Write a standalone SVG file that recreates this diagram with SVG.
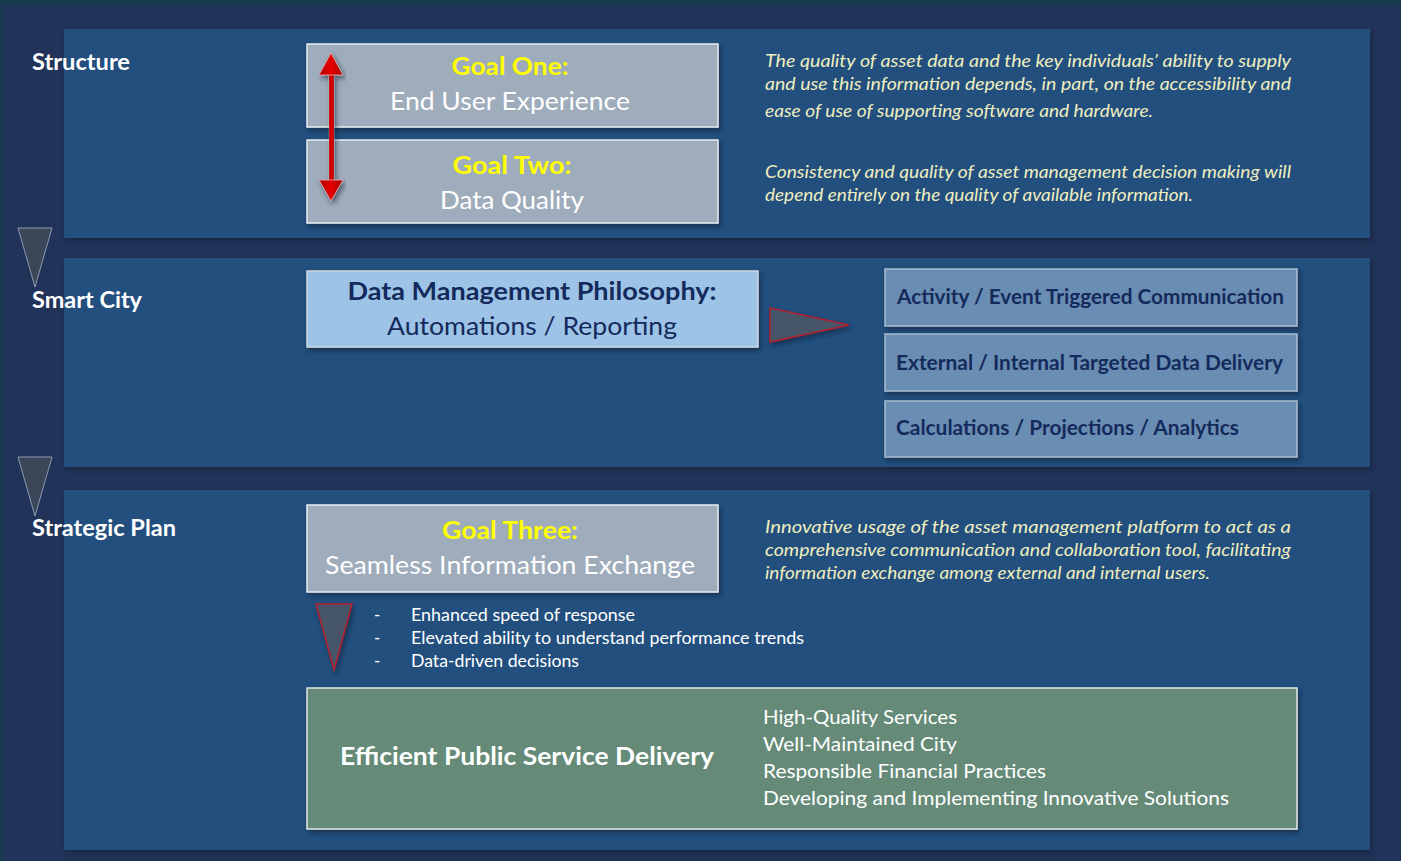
<svg xmlns="http://www.w3.org/2000/svg" width="1401" height="861" viewBox="0 0 1401 861">
<defs>
<filter id="sh" x="-10%" y="-10%" width="120%" height="130%">
<feDropShadow dx="2" dy="3" stdDeviation="2.5" flood-color="#0a1a30" flood-opacity="0.6"/>
</filter>
<linearGradient id="redg" x1="0" y1="0" x2="1" y2="0">
<stop offset="0" stop-color="#b00000"/><stop offset="0.5" stop-color="#e60000"/><stop offset="1" stop-color="#a00000"/>
</linearGradient>
</defs>
<style>
.band{fill:#24507e;}
.gray{fill:#9eacbb;stroke:#e8ecf0;stroke-width:1.5;}
.lbl{font-family:Lato,"Open Sans",sans-serif;font-weight:bold;font-size:22px;fill:#ffffff;}
.gh{font-family:Lato,"Open Sans",sans-serif;font-weight:bold;font-size:25px;fill:#ffff00;text-anchor:middle;}
.gs{font-family:Lato,"Open Sans",sans-serif;font-size:25px;fill:#ffffff;text-anchor:middle;}
.it{font-family:Lato,"Open Sans",sans-serif;font-style:italic;font-size:17.5px;fill:#efeebf;}
.nv{font-family:Lato,"Open Sans",sans-serif;font-weight:bold;fill:#142a5c;}
.wt{font-family:Lato,"Open Sans",sans-serif;fill:#ffffff;}
.tri{fill:#3b4758;stroke:#8a9ab0;stroke-width:1;}
.rtri{fill:#465468;stroke:#b02030;stroke-width:1.5;}
</style>
<rect x="0" y="0" width="1401" height="861" fill="#173a4c"/>
<rect x="3" y="5" width="1398" height="856" fill="#22335a"/>

<g id="band-structure">
<rect class="band" x="64" y="29" width="1306" height="209" filter="url(#sh)"/>
<text class="lbl" x="32" y="70" textLength="98" lengthAdjust="spacingAndGlyphs">Structure</text>
</g>
<g id="band-smartcity">
<rect class="band" x="64" y="258" width="1306" height="209" filter="url(#sh)"/>
<text class="lbl" x="32" y="308" textLength="110" lengthAdjust="spacingAndGlyphs">Smart City</text>
</g>
<g id="band-strategic">
<rect class="band" x="64" y="490" width="1306" height="360" filter="url(#sh)"/>
<text class="lbl" x="32" y="536" textLength="144" lengthAdjust="spacingAndGlyphs">Strategic Plan</text>
</g>

<g id="goal-one">
<rect class="gray" x="307" y="44" width="411" height="83" filter="url(#sh)"/>
<text class="gh" x="510" y="75" textLength="117" lengthAdjust="spacingAndGlyphs">Goal One:</text>
<text class="gs" x="510" y="110" textLength="240" lengthAdjust="spacingAndGlyphs">End User Experience</text>
</g>
<g id="goal-two">
<rect class="gray" x="307" y="140" width="411" height="83" filter="url(#sh)"/>
<text class="gh" x="512" y="174" textLength="119" lengthAdjust="spacingAndGlyphs">Goal Two:</text>
<text class="gs" x="512" y="209" textLength="144" lengthAdjust="spacingAndGlyphs">Data Quality</text>
</g>
<g id="text-structure">
<text class="it"><tspan x="765" y="67" textLength="526" lengthAdjust="spacingAndGlyphs">The quality of asset data and the key individuals’ ability to supply</tspan><tspan x="765" y="90" textLength="526" lengthAdjust="spacingAndGlyphs">and use this information depends, in part, on the accessibility and</tspan><tspan x="765" y="117" textLength="388" lengthAdjust="spacingAndGlyphs">ease of use of supporting software and hardware.</tspan></text>
<text class="it"><tspan x="765" y="178" textLength="526" lengthAdjust="spacingAndGlyphs">Consistency and quality of asset management decision making will</tspan><tspan x="765" y="201" textLength="428" lengthAdjust="spacingAndGlyphs">depend entirely on the quality of available information.</tspan></text>
</g>

<g id="data-mgmt">
<rect x="307" y="271" width="451" height="76" fill="#9dc3e6" stroke="#d0d8e0" stroke-width="1.5" filter="url(#sh)"/>
<text class="nv" x="532" y="300" font-size="25" text-anchor="middle" textLength="369" lengthAdjust="spacingAndGlyphs">Data Management Philosophy:</text>
<text x="532" y="335" font-size="25" text-anchor="middle" font-family="Lato,'Open Sans',sans-serif" fill="#142a5c" textLength="290" lengthAdjust="spacingAndGlyphs">Automations / Reporting</text>
</g>
<g id="activity">
<rect x="885" y="269" width="412" height="57" fill="#6a8db3" stroke="#a8bcd0" stroke-width="1.5" filter="url(#sh)"/>
<text class="nv" x="897" y="304" font-size="20" textLength="387" lengthAdjust="spacingAndGlyphs">Activity / Event Triggered Communication</text>
</g>
<g id="external">
<rect x="885" y="334" width="412" height="57" fill="#6a8db3" stroke="#a8bcd0" stroke-width="1.5" filter="url(#sh)"/>
<text class="nv" x="896" y="370" font-size="20" textLength="387" lengthAdjust="spacingAndGlyphs">External / Internal Targeted Data Delivery</text>
</g>
<g id="calculations">
<rect x="885" y="401" width="412" height="56" fill="#6a8db3" stroke="#a8bcd0" stroke-width="1.5" filter="url(#sh)"/>
<text class="nv" x="896" y="435" font-size="20" textLength="343" lengthAdjust="spacingAndGlyphs">Calculations / Projections / Analytics</text>
</g>

<g id="goal-three">
<rect class="gray" x="307" y="505" width="411" height="87" filter="url(#sh)"/>
<text class="gh" x="510" y="539" textLength="136" lengthAdjust="spacingAndGlyphs">Goal Three:</text>
<text class="gs" x="510" y="574" textLength="370" lengthAdjust="spacingAndGlyphs">Seamless Information Exchange</text>
</g>
<g id="text-strategic">
<text class="it"><tspan x="765" y="533" textLength="526" lengthAdjust="spacingAndGlyphs">Innovative usage of the asset management platform to act as a</tspan><tspan x="765" y="556" textLength="526" lengthAdjust="spacingAndGlyphs">comprehensive communication and collaboration tool, facilitating</tspan><tspan x="765" y="579" textLength="445" lengthAdjust="spacingAndGlyphs">information exchange among external and internal users.</tspan></text>
</g>
<g id="benefits">
<text class="wt" font-size="17"><tspan x="374" y="621">-</tspan><tspan x="374" y="644">-</tspan><tspan x="374" y="667">-</tspan></text>
<text class="wt" font-size="17"><tspan x="411" y="621" textLength="224" lengthAdjust="spacingAndGlyphs">Enhanced speed of response</tspan><tspan x="411" y="644" textLength="393" lengthAdjust="spacingAndGlyphs">Elevated ability to understand performance trends</tspan><tspan x="411" y="667" textLength="168" lengthAdjust="spacingAndGlyphs">Data-driven decisions</tspan></text>
</g>
<g id="efficient">
<rect x="307" y="688" width="990" height="141" fill="#658b78" stroke="#e0e8e4" stroke-width="1.5" filter="url(#sh)"/>
<text class="wt" x="340" y="765" font-size="25" font-weight="bold" textLength="374" lengthAdjust="spacingAndGlyphs">Efficient Public Service Delivery</text>
<text class="wt" font-size="20"><tspan x="763" y="724" textLength="194" lengthAdjust="spacingAndGlyphs">High-Quality Services</tspan><tspan x="763" y="751" textLength="194" lengthAdjust="spacingAndGlyphs">Well-Maintained City</tspan><tspan x="763" y="778" textLength="283" lengthAdjust="spacingAndGlyphs">Responsible Financial Practices</tspan><tspan x="763" y="805" textLength="466" lengthAdjust="spacingAndGlyphs">Developing and Implementing Innovative Solutions</tspan></text>
</g>

<g id="connectors">
<polygon class="tri" points="18,228 52,228 35,287"/>
<polygon class="tri" points="18,457 52,457 35,516"/>
<g filter="url(#sh)">
<rect x="329" y="72" width="5" height="110" fill="url(#redg)" stroke="#ffffff" stroke-opacity="0.4" stroke-width="0.5"/>
<polygon points="331,53 343,75 319,75" fill="url(#redg)" stroke="#e0b0b0" stroke-width="0.8"/>
<polygon points="319,180 343,180 331,201" fill="url(#redg)" stroke="#e0b0b0" stroke-width="0.8"/>
</g>
<polygon class="rtri" points="770,308 849,325 770,342" filter="url(#sh)"/>
<polygon class="rtri" points="316,604 352,604 334,670" filter="url(#sh)"/>
</g>
</svg>
